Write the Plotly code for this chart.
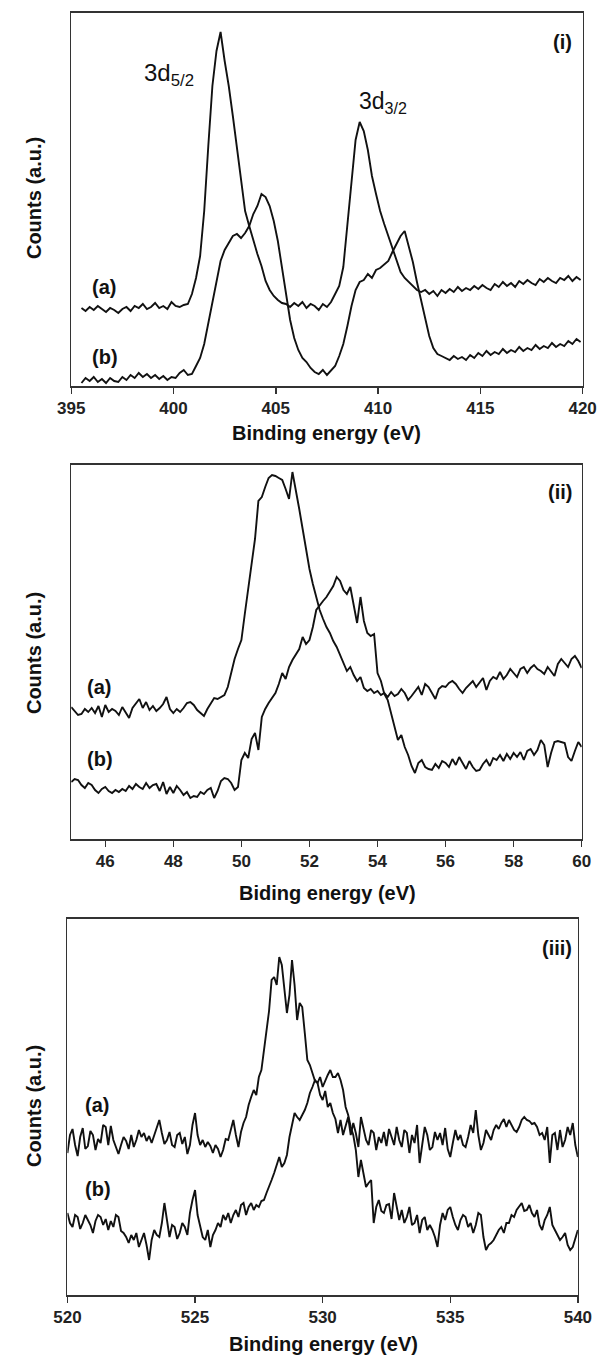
import plotly.graph_objects as go

# ---------------- data (counts in arbitrary units) ----------------
# Panel (i): 395.5 .. 419.9 eV, step 0.2
p1_start, p1_step = 395.5, 0.2
p1_a = [78,75,79,76,80,77,74,78,76,73,77,79,75,80,78,82,77,79,83,78,80,77,84,80,79,81,82,
        92,108,130,175,240,300,335,354,325,300,270,240,205,175,160,145,132,120,105,96,90,86,
        83,82,79,83,80,84,78,82,80,76,82,79,84,92,100,119,160,205,246,264,255,236,210,192,
        175,162,150,138,125,114,108,104,100,96,94,96,92,95,90,96,93,97,94,99,95,98,96,100,
        97,101,98,96,102,99,104,100,103,99,105,102,106,103,101,107,104,108,105,103,108,106,
        110,105,109,106]
p1_b = [3,8,5,9,4,7,3,8,5,4,9,6,11,8,13,9,12,8,11,7,10,6,9,8,13,16,11,
        12,20,28,42,62,85,105,125,136,143,150,152,148,153,160,172,180,192,189,180,165,145,
        118,90,66,48,36,28,24,18,14,12,16,11,15,20,30,42,60,80,96,104,106,112,108,116,118,
        122,125,134,142,150,155,140,124,104,86,68,50,38,32,30,28,26,30,27,29,26,31,28,33,
        30,35,31,34,32,37,33,36,34,39,35,38,36,41,37,40,38,43,39,42,40,45,42,47,44]

# Panel (ii): 45 .. 60 eV, step 0.1
p2_start, p2_step = 45.0, 0.1
p2_a = [132,128,124,125,130,127,131,126,133,122,134,127,130,128,124,132,126,121,131,136,
        140,131,137,129,133,128,131,135,142,130,126,130,127,131,136,137,134,129,126,123,
        130,136,141,140,142,144,152,166,180,190,199,225,250,275,300,338,342,352,361,364,
        363,361,359,350,340,367,350,330,310,289,270,255,242,229,220,212,206,198,192,184,
        177,168,172,164,158,162,151,148,150,146,148,144,146,142,147,143,145,150,146,139,
        143,148,152,144,155,152,146,140,150,153,152,156,158,155,150,146,151,155,158,152,
        157,161,149,158,162,160,167,160,164,170,166,162,170,172,166,171,174,170,168,165,
        172,167,163,175,180,176,172,180,183,178,171]
p2_b = [57,60,59,54,51,56,54,49,46,50,52,48,46,49,47,50,48,53,50,55,
        52,50,56,51,54,55,48,57,45,52,46,53,49,44,47,41,43,42,47,45,
        49,51,41,48,58,61,60,56,49,52,79,86,81,100,106,89,122,130,136,141,
        146,155,166,160,172,179,184,190,202,195,199,212,229,234,238,242,248,253,262,258,
        249,245,252,232,216,242,218,206,203,205,166,158,145,139,125,110,99,104,92,84,
        73,66,76,79,72,70,69,75,71,78,76,72,80,74,82,76,70,78,72,68,
        69,75,79,73,81,79,84,78,85,80,86,82,87,79,88,90,84,89,99,94,
        72,86,97,98,97,96,82,78,88,97,92]

# Panel (iii): 520 .. 540 eV, step 0.1
p3_start, p3_step = 520.0, 0.1
p3_a = [142,160,166,150,139,158,167,146,149,164,160,145,156,152,170,168,150,169,155,147,
        141,150,158,154,146,160,148,155,165,158,162,154,159,152,160,168,175,162,151,155,
        163,150,148,160,162,151,158,141,150,170,182,160,150,155,148,153,149,142,150,146,
        138,145,156,155,165,175,160,148,163,172,178,190,198,205,200,218,225,245,262,284,
        315,318,310,338,330,305,282,300,335,310,275,292,288,262,235,230,222,214,212,200,
        195,204,188,192,182,176,162,175,160,168,178,160,172,162,148,178,165,155,150,165,
        162,145,158,152,163,149,166,158,150,168,155,148,165,162,142,160,152,170,132,150,
        168,160,145,148,163,155,162,150,167,146,138,152,165,155,160,150,148,158,170,162,
        185,160,145,152,165,160,155,165,170,166,172,176,168,175,170,165,163,168,175,178,
        175,174,171,172,168,160,162,155,168,132,160,162,145,165,148,155,168,160,172,150,
        138]
p3_b = [82,72,68,80,78,66,72,80,75,70,62,74,80,78,70,76,65,74,68,80,
        78,64,62,58,52,60,55,62,48,56,62,50,35,55,65,60,58,72,92,75,
        58,70,68,56,62,72,68,60,82,95,105,80,68,58,55,65,48,60,65,72,
        68,80,75,82,72,80,85,78,90,92,80,88,92,85,90,88,94,95,102,108,
        115,122,130,138,128,132,140,158,170,182,178,175,180,185,192,202,208,215,212,218,
        208,215,220,225,218,218,222,215,205,188,180,168,160,145,118,135,122,108,112,115,
        72,88,95,84,82,90,91,76,102,90,75,85,72,78,88,70,72,80,62,75,
        78,65,70,65,58,48,70,82,75,85,88,78,70,65,75,80,78,68,72,62,
        70,82,80,58,45,50,52,55,60,65,68,62,72,72,80,78,85,88,92,84,
        85,90,82,78,85,70,65,75,80,88,70,65,60,55,58,62,50,45,48,58,
        65]

p1_ticks = [395, 400, 405, 410, 415, 420]
p2_ticks = [46, 48, 50, 52, 54, 56, 58, 60]
p3_ticks = [520, 525, 530, 535, 540]

# ---------------- layout helpers ----------------
W, H = 610, 1357
FONT = "Liberation Sans, Arial, Helvetica, sans-serif"


def px(x):
    return x / W


def py(y):
    return 1 - y / H


def grid(start, step, n):
    return [round(start + step * i, 3) for i in range(n)]


fig = go.Figure()

panels = [
    dict(start=p1_start, step=p1_step, a=p1_a, b=p1_b, xr=[395, 420], ticks=p1_ticks,
         box=(60, 596, 12.5, 386), yr=[0, 373.5]),
    dict(start=p2_start, step=p2_step, a=p2_a, b=p2_b, xr=[45, 60], ticks=p2_ticks,
         box=(60, 595, 465, 839), yr=[0, 374]),
    dict(start=p3_start, step=p3_step, a=p3_a, b=p3_b, xr=[520, 540], ticks=p3_ticks,
         box=(56, 591, 919, 1295), yr=[0, 376]),
]

layout = dict(
    width=W, height=H, margin=dict(l=0, r=0, t=0, b=0),
    paper_bgcolor="white", plot_bgcolor="white", showlegend=False,
    font=dict(family=FONT, color="#111"),
)

for i, p in enumerate(panels, start=1):
    xa = "x" if i == 1 else f"x{i}"
    ya = "y" if i == 1 else f"y{i}"
    for key in ("a", "b"):
        vals = p[key]
        fig.add_trace(go.Scatter(
            x=grid(p["start"], p["step"], len(vals)), y=vals, mode="lines",
            line=dict(color="#111", width=1.9), xaxis=xa, yaxis=ya,
            hoverinfo="skip"))
    l, r, t, b = p["box"]
    layout["xaxis" if i == 1 else f"xaxis{i}"] = dict(
        domain=[px(l), px(r)], range=p["xr"], anchor=ya,
        showline=True, mirror=True, linecolor="#333", linewidth=1.6,
        showgrid=False, zeroline=False, ticks="outside", ticklen=6,
        tickwidth=1.4, tickcolor="#333", tickvals=p["ticks"],
        tickfont=dict(family=FONT, size=17, color="#222", weight="bold"),
    )
    layout["yaxis" if i == 1 else f"yaxis{i}"] = dict(
        domain=[py(b), py(t)], range=p["yr"], anchor=xa,
        showline=True, mirror=True, linecolor="#333", linewidth=1.6,
        showgrid=False, zeroline=False, showticklabels=False, ticks="",
    )

fig.update_layout(**layout)

ann = []


def add(text, x, y, size, bold=True, xanchor="left", angle=0):
    ann.append(dict(text=text, x=px(x), y=py(y), xref="paper", yref="paper",
                    xanchor=xanchor, yanchor="middle", showarrow=False,
                    textangle=angle,
                    font=dict(family=FONT, size=size, color="#111",
                              weight="bold" if bold else "normal")))


# panel labels
add("(i)", 587, 42, 20, xanchor="right")
add("(ii)", 587, 492, 20, xanchor="right")
add("(iii)", 587, 948, 20, xanchor="right")
# curve labels
add("(a)", 80, 287, 20)
add("(b)", 80, 357, 20)
add("(a)", 74, 687, 20)
add("(b)", 74, 759, 20)
add("(a)", 72, 1105, 20)
add("(b)", 72, 1189, 20)
# peak labels
add("3d<sub>5/2</sub>", 134, 74, 24, bold=False)
add("3d<sub>3/2</sub>", 359, 102, 23, bold=False)
# axis titles
add("Binding energy (eV)", 328, 433, 20, xanchor="center")
add("Biding energy (eV)", 329, 893, 20, xanchor="center")
add("Binding energy (eV)", 324, 1344, 20, xanchor="center")
add("Counts (a.u.)", 21, 198, 20, xanchor="center", angle=-90)
add("Counts (a.u.)", 21, 653, 20, xanchor="center", angle=-90)
add("Counts (a.u.)", 21, 1106, 20, xanchor="center", angle=-90)

fig.update_layout(annotations=ann)
fig.write_html(
    "out.html",
    config={"displayModeBar": False, "staticPlot": True},
    post_script="document.body.style.margin='0';document.body.style.overflow='hidden';",
)
